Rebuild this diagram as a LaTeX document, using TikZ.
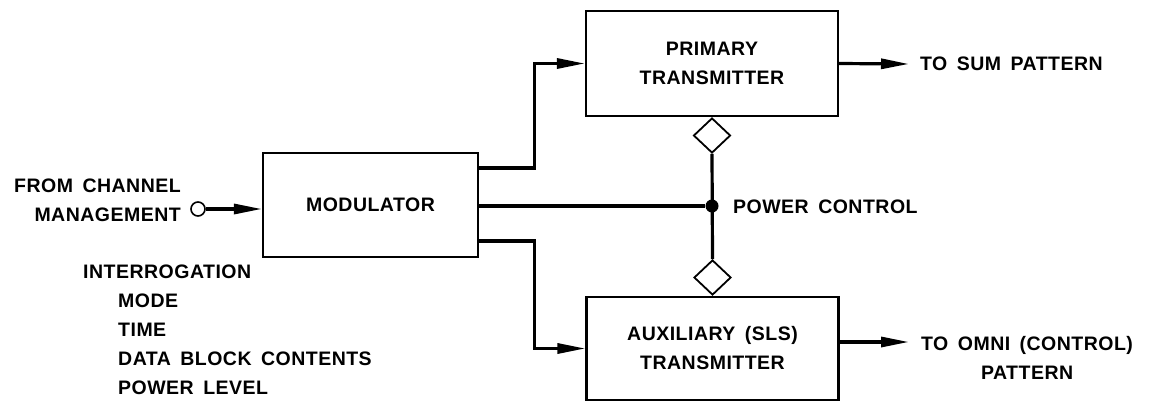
\documentclass[tikz,border=0pt]{standalone}
\usepackage{fontspec}
\setmainfont[LetterSpace=2.5,WordSpace=1.6]{Liberation Sans}
\usepackage{tikz}
\usetikzlibrary{arrows.meta}
\usetikzlibrary{shapes.geometric}
\tikzset{
    blk/.style 2 args={
        draw, line width=2.2pt,
        minimum width=#1, minimum height=#2,
        align=center, inner sep=0pt
    },
    conn/.style={
        line width=3.2pt,
        -{Triangle[length=28pt,width=10pt]}
    },
    wire/.style={line width=3.2pt},
    valve/.style={
        draw, diamond, line width=1.8pt,
        minimum width=37pt, minimum height=35pt, inner sep=0pt
    },
    lbl/.style={inner sep=0pt}
}

\begin{document}
\begin{tikzpicture}[x=1pt, y=-1pt, font=\fontsize{19.5}{29}\selectfont\bfseries]
		\useasboundingbox (0,0) rectangle (1155,402);

		% blocks
		\node[blk={215pt}{104pt}] (mod) at (370.5,205) {MODULATOR};
		\node[blk={252pt}{105pt}] (prim) at (712,63.5) {PRIMARY\\TRANSMITTER};
		\node[blk={252pt}{103pt}] (aux) at (712.5,348.5) {AUXILIARY (SLS)\\TRANSMITTER};

		% power control
		\node[valve, anchor=north] (vp) at (prim.south) {};
		\node[valve, anchor=south] (va) at (aux.north) {};
		\node[circle, fill, minimum size=13pt, inner sep=0pt] (pc) at (712,206) {};
		\draw[wire] (vp.south) -- (va.north);
		\draw[wire] (mod.east |- pc) -- (pc);
		\node[lbl, anchor=west] (pclbl) at (733,207) {POWER CONTROL};

		% input
		\node[circle, draw, line width=1.6pt, minimum size=14pt, inner sep=0pt] (src) at (198,209) {};
		\node[lbl, anchor=east, align=right] (srclbl) at (181,200) {FROM CHANNEL\\MANAGEMENT};
		\draw[conn] (src) -- (src -| mod.west);

		% modulator to transmitters
		\draw[conn] ([yshift=37pt]mod.east) -- ++(55,0) |- (prim.west);
		\draw[conn] ([yshift=-36pt]mod.east) -- ++(55,0) |- (aux.west);

		% outputs
		\node[lbl, anchor=west] (sum) at (920,64) {TO SUM PATTERN};
		\coordinate (sumtip) at (909,64);
		\draw[conn] (prim.east) -- (sumtip);
		\node[lbl, anchor=west, align=center] (omni) at (921,357.5) {TO OMNI (CONTROL)\\PATTERN};
		\coordinate (omnitip) at (909,342);
		\draw[conn] ([yshift=6.5pt]aux.east) -- (omnitip);

		% interrogation contents
		\node[lbl, anchor=west, align=left] (modes) at (83,330) {INTERROGATION\\\hspace*{35pt}MODE\\\hspace*{35pt}TIME\\\hspace*{35pt}DATA BLOCK CONTENTS\\\hspace*{35pt}POWER LEVEL};

	\end{tikzpicture}
\end{document}
